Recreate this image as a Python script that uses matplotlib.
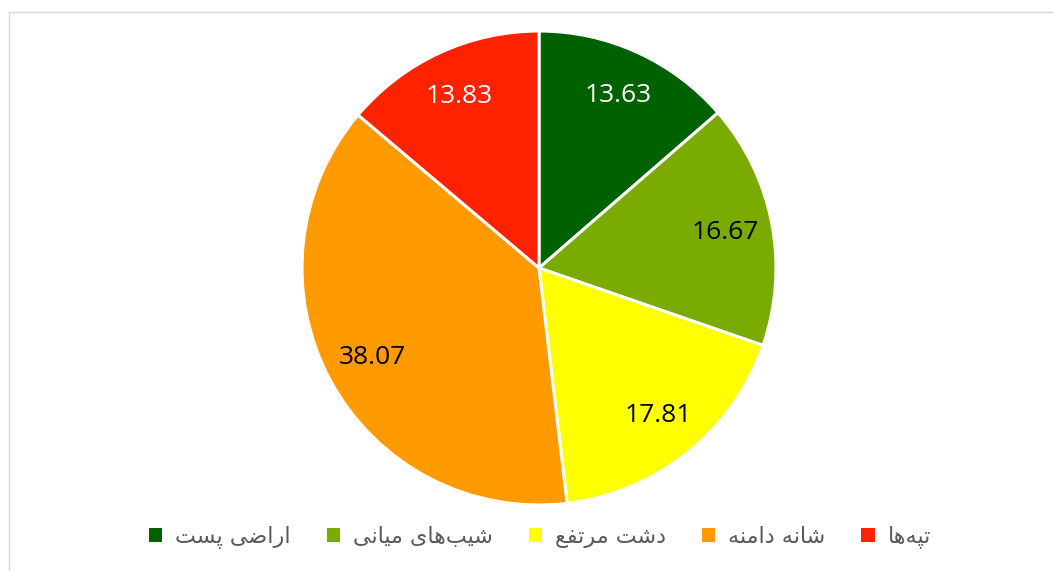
import matplotlib
matplotlib.use('Agg')
import matplotlib.pyplot as plt
from matplotlib.lines import Line2D
from matplotlib.patches import Patch

# data
categories = ['اراضی پست', 'شیب‌های میانی', 'دشت مرتفع', 'شانه دامنه', 'تپه‌ها']
values = [13.63, 16.67, 17.81, 38.07, 13.83]
colors = ['#006100', '#7AAB00', '#FFFF00', '#FF9A00', '#FF2200']
label_colors = ['white', 'black', 'black', 'black', 'white']

# presentation forms: isolated, final, initial, medial (None = right joining only)
FORMS = {
    'ا': (0xFE8D, 0xFE8E, None, None),
    'ب': (0xFE8F, 0xFE90, 0xFE91, 0xFE92),
    'پ': (0xFB56, 0xFB57, 0xFB58, 0xFB59),
    'ت': (0xFE95, 0xFE96, 0xFE97, 0xFE98),
    'د': (0xFEA9, 0xFEAA, None, None),
    'ر': (0xFEAD, 0xFEAE, None, None),
    'س': (0xFEB1, 0xFEB2, 0xFEB3, 0xFEB4),
    'ش': (0xFEB5, 0xFEB6, 0xFEB7, 0xFEB8),
    'ض': (0xFEBD, 0xFEBE, 0xFEBF, 0xFEC0),
    'ع': (0xFEC9, 0xFECA, 0xFECB, 0xFECC),
    'ف': (0xFED1, 0xFED2, 0xFED3, 0xFED4),
    'م': (0xFEE1, 0xFEE2, 0xFEE3, 0xFEE4),
    'ن': (0xFEE5, 0xFEE6, 0xFEE7, 0xFEE8),
    'ه': (0xFEE9, 0xFEEA, 0xFEEB, 0xFEEC),
    'ی': (0xFBFC, 0xFBFD, 0xFBFE, 0xFBFF),
}


def shape(text):
    # crude arabic shaping + reversal so matplotlib draws it right to left
    out = []
    n = len(text)
    for i, ch in enumerate(text):
        if ch not in FORMS:
            if ch != '\u200c':
                out.append(ch)
            continue
        prev = text[i - 1] if i > 0 else None
        nxt = text[i + 1] if i < n - 1 else None
        joins_prev = prev in FORMS and FORMS[prev][2] is not None
        joins_next = nxt in FORMS and FORMS[ch][2] is not None
        f = FORMS[ch]
        if joins_prev and joins_next:
            code = f[3]
        elif joins_prev:
            code = f[1]
        elif joins_next:
            code = f[2]
        else:
            code = f[0]
        out.append(chr(code))
    return ''.join(out[::-1])


W, H = 1054, 571
fig = plt.figure(figsize=(W / 100, H / 100), dpi=100)

# chart area border (top and left only visible)
fig.add_artist(Line2D([8.5 / W, 8.5 / W], [0, 1 - 11.5 / H], color='#D9D9D9', lw=1.0))
fig.add_artist(Line2D([8.5 / W, 1], [1 - 11.5 / H, 1 - 11.5 / H], color='#D9D9D9', lw=1.0))

cx, cy, r = 539, 268, 237
ax = fig.add_axes([(cx - r) / W, (H - cy - r) / H, 2 * r / W, 2 * r / H])

total = sum(values)
wedges, texts, autotexts = ax.pie(
    values, colors=colors, startangle=90, counterclock=False, radius=1,
    autopct=lambda p: '{:.2f}'.format(p * total / 100), pctdistance=0.8,
    wedgeprops=dict(edgecolor='white', linewidth=2.2),
    textprops=dict(fontsize=19, family='Open Sans'))
for t, c in zip(autotexts, label_colors):
    t.set_color(c)
ax.set_xlim(-1, 1)
ax.set_ylim(-1, 1)
ax.set_aspect('equal')
ax.axis('off')

handles = [Patch(facecolor=c, edgecolor='none') for c in colors]
leg = fig.legend(handles, [shape(c) for c in categories], loc='center',
                 bbox_to_anchor=(540 / W, 1 - 537 / H), ncol=5, frameon=False,
                 handlelength=0.6, handleheight=0.6, handletextpad=0.6,
                 columnspacing=1.6, prop=dict(family='DejaVu Sans', size=16))
for t in leg.get_texts():
    t.set_color('#595959')

fig.savefig('out.png', dpi=100)
